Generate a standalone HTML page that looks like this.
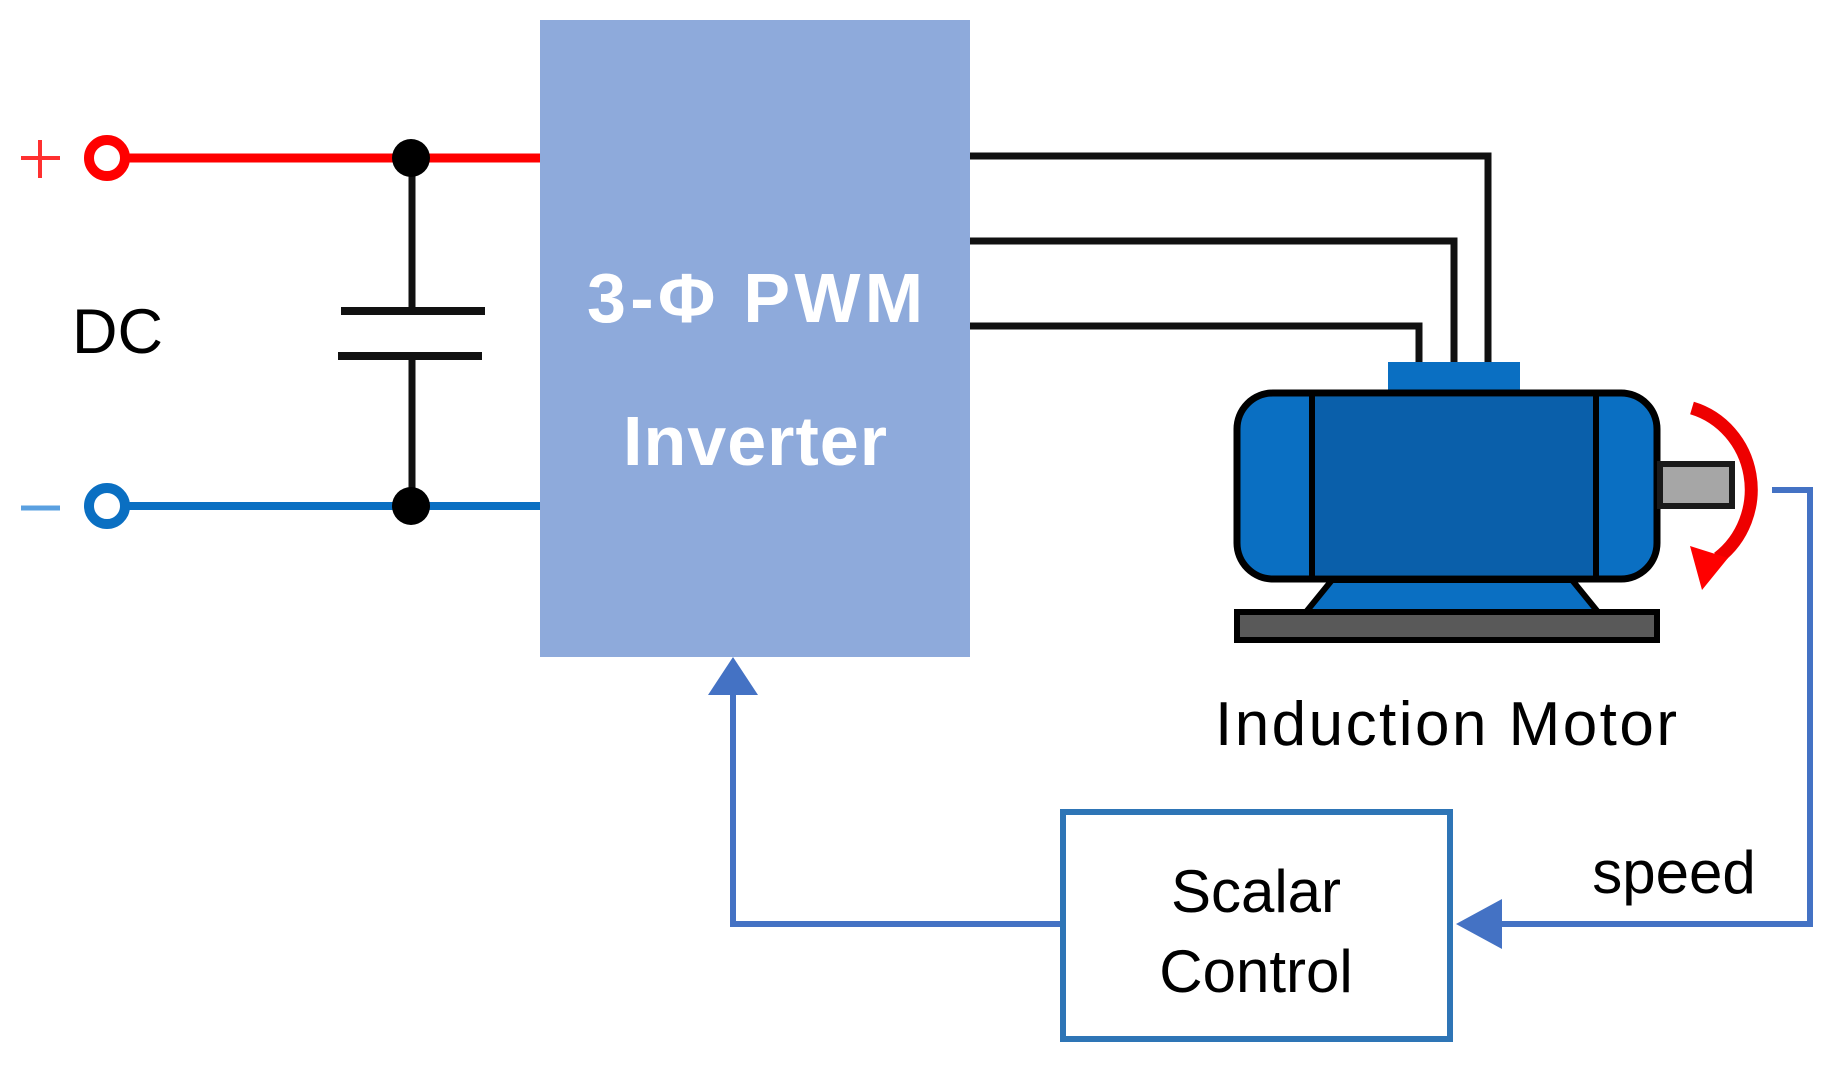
<!DOCTYPE html>
<html><head><meta charset="utf-8"><style>
html,body{margin:0;padding:0;background:#fff;}
svg{display:block}
text{font-family:"Liberation Sans Narrow","Liberation Sans",sans-serif;}
</style></head><body>
<svg width="1840" height="1068" viewBox="0 0 1840 1068" xmlns="http://www.w3.org/2000/svg">
<rect width="1840" height="1068" fill="#fff"/>
<!-- DC rails -->
<line x1="125" y1="158" x2="540" y2="158" stroke="#ff0000" stroke-width="9"/>
<line x1="125" y1="506" x2="540" y2="506" stroke="#0a6fc2" stroke-width="8"/>
<circle cx="107" cy="158" r="18" fill="#fff" stroke="#ff0000" stroke-width="10"/>
<circle cx="107" cy="506" r="18" fill="#fff" stroke="#0a6fc2" stroke-width="10"/>
<line x1="21" y1="158" x2="60" y2="158" stroke="#ff3030" stroke-width="4"/>
<line x1="40" y1="140" x2="40" y2="178" stroke="#ff3030" stroke-width="4"/>
<line x1="21" y1="508" x2="60" y2="508" stroke="#5aa0e0" stroke-width="5"/>
<!-- capacitor -->
<line x1="412" y1="158" x2="412" y2="311" stroke="#111" stroke-width="7"/>
<line x1="412" y1="356" x2="412" y2="506" stroke="#111" stroke-width="7"/>
<line x1="341" y1="311" x2="485" y2="311" stroke="#111" stroke-width="8"/>
<line x1="338" y1="356" x2="482" y2="356" stroke="#111" stroke-width="8"/>
<circle cx="411" cy="158" r="19" fill="#000"/>
<circle cx="411" cy="506" r="19" fill="#000"/>
<text x="72" y="353" font-size="63" fill="#000">DC</text>
<!-- inverter -->
<rect x="540" y="20" width="430" height="637" fill="#8eaadb"/>
<text x="755" y="322" font-size="70" font-weight="bold" fill="#fff" text-anchor="middle" font-family="Liberation Sans, sans-serif" textLength="336">3-Φ PWM</text>
<text x="755" y="465" font-size="70" font-weight="bold" fill="#fff" text-anchor="middle" font-family="Liberation Sans, sans-serif" textLength="264">Inverter</text>
<!-- phase wires -->
<polyline points="970,156 1488,156 1488,364" fill="none" stroke="#111" stroke-width="7"/>
<polyline points="970,241 1454,241 1454,364" fill="none" stroke="#111" stroke-width="7"/>
<polyline points="970,326 1419,326 1419,364" fill="none" stroke="#111" stroke-width="7"/>
<!-- motor -->
<rect x="1388" y="362" width="132" height="30" fill="#0a6fc2"/>
<polygon points="1332,580 1572,580 1598,612 1306,612" fill="#0a6fc2" stroke="#000" stroke-width="6"/>
<rect x="1237" y="612" width="420" height="28" fill="#595959" stroke="#000" stroke-width="6"/>
<rect x="1237" y="393" width="420" height="186" rx="36" fill="#0a6fc2" stroke="#000" stroke-width="7"/>
<rect x="1312" y="397" width="284" height="178" fill="#0a5faa"/>
<line x1="1312" y1="393" x2="1312" y2="579" stroke="#000" stroke-width="6"/>
<line x1="1596" y1="393" x2="1596" y2="579" stroke="#000" stroke-width="6"/>
<rect x="1660" y="464" width="72" height="42" fill="#a6a6a6" stroke="#1a1a1a" stroke-width="6"/>
<path d="M1692,408 A82,85 0 0 1 1718,558" fill="none" stroke="#ee0000" stroke-width="13"/>
<polygon points="1690,546 1728,558 1702,590" fill="#ff0000"/>
<!-- feedback -->
<polyline points="1772,490 1810,490 1810,924 1500,924" fill="none" stroke="#4472c4" stroke-width="6"/>
<polygon points="1456,924 1502,899 1502,949" fill="#4472c4"/>
<polyline points="1063,924 733,924 733,692" fill="none" stroke="#4472c4" stroke-width="6"/>
<polygon points="733,657 708,695 758,695" fill="#4472c4"/>
<rect x="1063" y="812" width="387" height="227" fill="#fff" stroke="#2e75b6" stroke-width="6"/>
<text x="1256" y="912" font-size="60" fill="#000" text-anchor="middle">Scalar</text>
<text x="1256" y="992" font-size="60" fill="#000" text-anchor="middle">Control</text>
<text x="1446" y="745" font-size="62" fill="#000" text-anchor="middle" textLength="462">Induction Motor</text>
<text x="1674" y="893" font-size="60" fill="#000" text-anchor="middle">speed</text>
</svg>
</body></html>
